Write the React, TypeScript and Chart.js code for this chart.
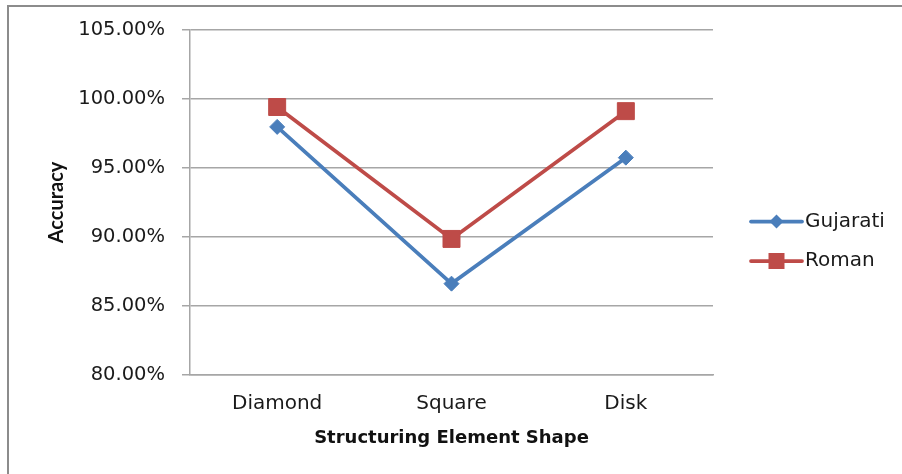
import React, { useEffect, useRef } from "react";
import { Chart, registerables } from "chart.js";

Chart.register(...registerables);

const shapes = ["Diamond", "Square", "Disk"];
const gujarati = [97.98, 86.62, 95.75];
const roman = [99.42, 89.86, 99.12];
const yTicks = [80, 85, 90, 95, 100, 105];

const BLUE = "#4a7ebb";
const RED = "#be4b48";
const GRID = "#a6a6a6";
const FONT = "'DejaVu Sans', sans-serif";

// Legend on the right: a short line with the series marker in its middle.
const sideLegend = {
  id: "sideLegend",
  afterDraw(chart: any) {
    const ctx = chart.ctx;
    const x0 = 751;
    const x1 = 802;
    const rows = [221.5, 261];
    chart.data.datasets.forEach((ds: any, i: number) => {
      const y = rows[i];
      ctx.save();
      ctx.strokeStyle = ds.borderColor;
      ctx.lineWidth = ds.borderWidth;
      ctx.lineCap = "round";
      ctx.beginPath();
      ctx.moveTo(x0, y);
      ctx.lineTo(x1, y);
      ctx.stroke();
      ctx.fillStyle = ds.pointBackgroundColor;
      const cx = (x0 + x1) / 2;
      ctx.beginPath();
      if (ds.pointStyle === "rect") {
        ctx.rect(cx - 8, y - 8, 16, 16);
      } else {
        ctx.moveTo(cx, y - 7);
        ctx.lineTo(cx + 7, y);
        ctx.lineTo(cx, y + 7);
        ctx.lineTo(cx - 7, y);
        ctx.closePath();
      }
      ctx.fill();
      ctx.fillStyle = "#1a1a1a";
      ctx.font = `20px ${FONT}`;
      ctx.textBaseline = "middle";
      ctx.textAlign = "left";
      ctx.fillText(ds.label, 805, y);
      ctx.restore();
    });
  },
};

export default function App() {
  const canvasRef = useRef<HTMLCanvasElement | null>(null);

  useEffect(() => {
    const canvas = canvasRef.current;
    if (!canvas) return;
    const chart = new Chart(canvas, {
      type: "line",
      data: {
        labels: shapes,
        datasets: [
          {
            label: "Gujarati",
            data: gujarati,
            borderColor: BLUE,
            backgroundColor: BLUE,
            pointBackgroundColor: BLUE,
            pointBorderColor: BLUE,
            borderWidth: 3.75,
            pointStyle: "rectRot",
            pointRadius: 7.5,
            pointBorderWidth: 1,
            tension: 0,
          },
          {
            label: "Roman",
            data: roman,
            borderColor: RED,
            backgroundColor: RED,
            pointBackgroundColor: RED,
            pointBorderColor: RED,
            borderWidth: 3.75,
            pointStyle: "rect",
            pointRadius: 12,
            pointBorderWidth: 1,
            tension: 0,
          },
        ],
      },
      options: {
        animation: false,
        responsive: false,
        devicePixelRatio: 1,
        layout: { padding: { top: 30, right: 189, left: 0, bottom: 0 } },
        plugins: {
          legend: { display: false },
          tooltip: { enabled: false },
        },
        scales: {
          x: {
            type: "category",
            offset: true,
            grid: { display: false, drawTicks: false },
            border: { display: true, color: GRID, width: 1.5 },
            ticks: {
              color: "#1a1a1a",
              font: { family: FONT, size: 20 },
              padding: 17,
              maxRotation: 0,
            },
            title: {
              display: true,
              text: "Structuring Element Shape",
              color: "#111",
              font: { family: FONT, size: 18, weight: "bold" },
              padding: { top: 0, bottom: 25 },
            },
            afterFit(scale: any) {
              scale.height = 99;
            },
          },
          y: {
            min: 80,
            max: 105,
            afterBuildTicks(scale: any) {
              scale.ticks = yTicks.map((v) => ({ value: v }));
            },
            grid: {
              color: GRID,
              lineWidth: 1.5,
              drawTicks: true,
              tickLength: 8,
              tickColor: GRID,
            },
            border: { display: true, color: GRID, width: 1.5 },
            ticks: {
              color: "#1a1a1a",
              font: { family: FONT, size: 19.5 },
              padding: 17,
              callback: (v: any) => Number(v).toFixed(2) + "%",
            },
            title: {
              display: true,
              text: "Accuracy",
              color: "#111",
              font: { family: "Lato, sans-serif", size: 20, weight: "bold" },
              padding: { top: 45, bottom: 0 },
            },
            afterFit(scale: any) {
              scale.width = 190;
            },
          },
        },
      },
      plugins: [sideLegend],
    });
    return () => chart.destroy();
  }, []);

  return (
    <div
      style={{
        position: "fixed",
        left: 0,
        top: 0,
        width: 902,
        height: 474,
        background: "#fff",
        overflow: "hidden",
      }}
    >
      <div
        style={{
          position: "absolute",
          left: 7,
          top: 5,
          width: 920,
          height: 500,
          borderTop: "2px solid #8c8c8c",
          borderLeft: "2px solid #8c8c8c",
        }}
      />
      <canvas
        ref={canvasRef}
        width={902}
        height={474}
        style={{ position: "absolute", left: 0, top: 0, width: 902, height: 474 }}
      />
    </div>
  );
}
